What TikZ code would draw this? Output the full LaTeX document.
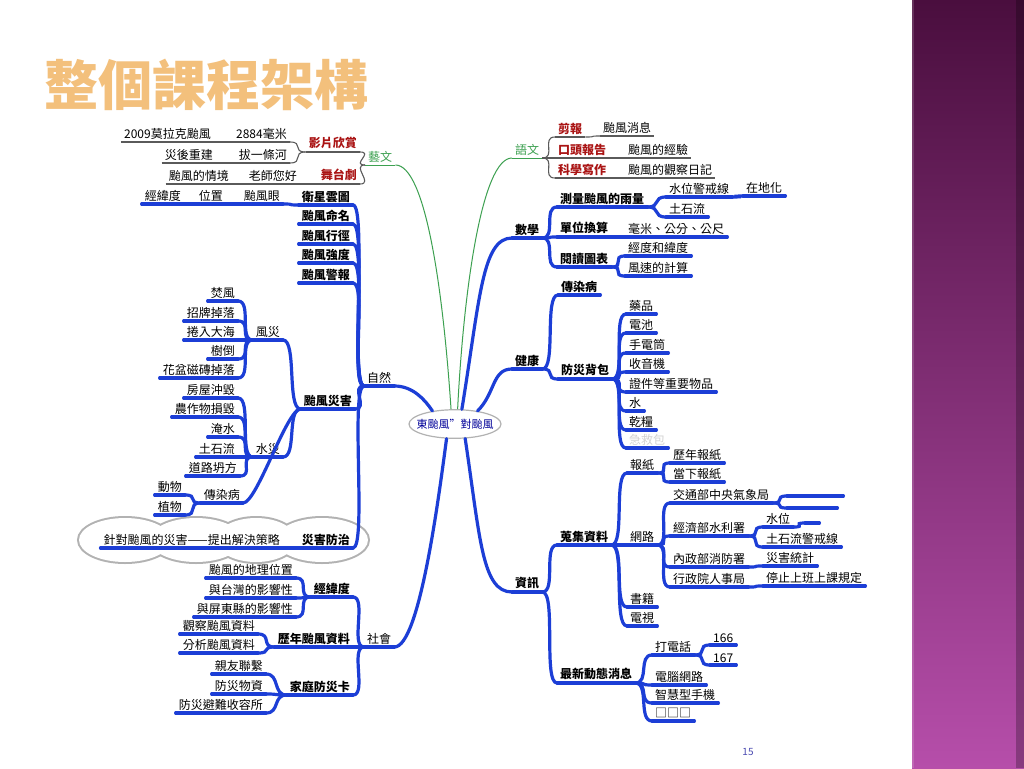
\documentclass[tikz,border=0pt]{standalone}
\usepackage{fontspec}
\setmainfont{Noto Sans CJK TC}
\usetikzlibrary{shapes.geometric}
\definecolor{mapblue}{RGB}{28,62,214}
\definecolor{mapgray}{RGB}{90,90,90}
\definecolor{mapgreen}{RGB}{60,160,80}
\definecolor{mapred}{RGB}{170,20,20}
\definecolor{titleorange}{RGB}{243,192,124}
\definecolor{bandtop}{RGB}{74,14,62}
\definecolor{bandbot}{RGB}{182,78,170}
\tikzset{
  rt/.style={anchor=south west, inner xsep=3pt, inner ysep=2.6pt, font=\fontsize{12}{13}\selectfont},
  lt/.style={rt, anchor=south east},
  rtb/.style={rt, font=\fontsize{12}{13}\selectfont\bfseries},
  ltb/.style={lt, font=\fontsize{12}{13}\selectfont\bfseries},
  redtxt/.style={text=mapred, font=\fontsize{12}{13}\selectfont\bfseries},
  grntxt/.style={text=mapgreen},
  bline/.style={draw=mapblue, line width=3.2pt, line cap=round},
  gline/.style={draw=mapgray, line width=1.1pt},
  grnline/.style={draw=mapgreen, line width=1pt},
  curv/.style={to path={.. controls +(14,0) and +(-14,0) .. (\tikztotarget)}},
}
\begin{document}
\begin{tikzpicture}[x=1pt, y=-1pt]
  \useasboundingbox (0,0) rectangle (1024,768);
  \fill[white] (0,0) rectangle (912,768);
  % side band
  \shade[top color=bandtop, bottom color=bandbot] (912,0) rectangle (1024,768);
  \fill[black, opacity=.25] (1016,0) rectangle (1024,768);
  \draw[white, opacity=.15, line width=2pt] (913,0) -- (913,768);

  % title
  \node (title) [anchor=west, inner sep=0, text=titleorange, font=\fontsize{54}{54}\selectfont\bfseries] at (44,85) {整個課程架構};

  % cloud behind the strategy line
  \foreach \cx/\rx in {125/46, 196/46, 256/40, 322/46}
    \draw[gray!60, line width=4pt] (\cx,540) ellipse [x radius=\rx, y radius=22];
  \foreach \cx/\rx in {125/46, 196/46, 256/40, 322/46}
    \fill[white] (\cx,540) ellipse [x radius=\rx, y radius=22];

  % centre
  \node (ctr) [ellipse, draw=gray!60, line width=1.2pt, fill=white, text=blue!60!black, inner xsep=-6pt, inner ysep=5pt, font=\fontsize{11}{12}\selectfont] at (455,424) {東颱風”對颱風};

  % art branch
  \node (yiwen) [rt, grntxt] at (365,165) {藝文};
  \node (film) [lt, redtxt] at (360,152) {影片欣賞};
  \node (drama) [lt, redtxt] at (360,184) {舞台劇};
  \node (mm) [lt] at (290,142) {2884毫米};
  \node (morakot) [lt] at (214,142) {2009莫拉克颱風};
  \node (river) [lt] at (290,163) {拔一條河};
  \node (rebuild) [lt] at (216,163) {災後重建};
  \node (hello) [lt] at (300,184) {老師您好};
  \node (scene) [lt] at (232,184) {颱風的情境};

  % nature branch
  \node (ziran) [rt] at (364,386) {自然};
  \node (satellite) [ltb] at (353,205) {衛星雲圖};
  \node (naming) [ltb] at (353,224) {颱風命名};
  \node (track) [ltb] at (353,244) {颱風行徑};
  \node (strength) [ltb] at (353,263) {颱風強度};
  \node (warning) [ltb] at (353,283) {颱風警報};
  \node (disaster) [ltb] at (355,409) {颱風災害};
  \node (prevent) [ltb] at (353,548) {災害防治};
  \node (eye) [lt] at (283,204) {颱風眼};
  \node (place) [lt] at (226,204) {位置};
  \node (latlon) [lt] at (184,204) {經緯度};
  \node (wind) [lt] at (283,340) {風災};
  \node (flood) [lt] at (283,457) {水災};
  \node (plague) [lt] at (243,503) {傳染病};
  \node (foehn) [lt] at (238,301) {焚風};
  \node (sign) [lt] at (238,321) {招牌掉落};
  \node (sea) [lt] at (238,340) {捲入大海};
  \node (tree) [lt] at (238,359) {樹倒};
  \node (pot) [lt] at (238,378) {花盆磁磚掉落};
  \node (house) [lt] at (238,398) {房屋沖毀};
  \node (crop) [lt] at (238,417) {農作物損毀};
  \node (inund) [lt] at (238,437) {淹水};
  \node (debris) [lt] at (238,457) {土石流};
  \node (road) [lt] at (240,476) {道路坍方};
  \node (animal) [lt] at (185,495) {動物};
  \node (plant) [lt] at (185,515) {植物};
  \node (strategy) [lt] at (283,548) {針對颱風的災害——提出解決策略};

  % society branch
  \node (society) [rt] at (364,647) {社會};
  \node (latlon2) [ltb] at (353,597) {經緯度};
  \node (history) [ltb] at (353,647) {歷年颱風資料};
  \node (card) [ltb] at (353,695) {家庭防災卡};
  \node (geo) [lt] at (296,578) {颱風的地理位置};
  \node (taiwan) [lt] at (296,598) {與台灣的影響性};
  \node (pingtung) [lt] at (296,617) {與屏東縣的影響性};
  \node (observe) [lt] at (258,634) {觀察颱風資料};
  \node (analyze) [lt] at (258,653) {分析颱風資料};
  \node (contact) [lt] at (266,674) {親友聯繫};
  \node (supplies) [lt] at (266,694) {防災物資};
  \node (shelter) [lt] at (266,713) {防災避難收容所};

  % language branch
  \node (yuwen) [rt, grntxt] at (512,158) {語文};
  \node (clip) [rt, redtxt] at (555,137) {剪報};
  \node (oral) [rt, redtxt] at (555,158) {口頭報告};
  \node (sciwrite) [rt, redtxt] at (555,178) {科學寫作};
  \node (news) [rt] at (600,136) {颱風消息};
  \node (exper) [rt] at (625,158) {颱風的經驗};
  \node (diary) [rt] at (625,178) {颱風的觀察日記};

  % maths branch
  \node (math) [rtb] at (512,238) {數學};
  \node (rain) [rtb] at (557,207) {測量颱風的雨量};
  \node (unit) [rtb] at (557,237) {單位換算};
  \node (chart) [rtb] at (557,267) {閱讀圖表};
  \node (level) [rt] at (666,197) {水位警戒線};
  \node (debris2) [rt] at (666,217) {土石流};
  \node (local) [rt] at (743,196) {在地化};
  \node (units) [rt] at (625,237) {毫米、公分、公尺};
  \node (lonlat) [rt] at (625,256) {經度和緯度};
  \node (speed) [rt] at (625,276) {風速的計算};

  % health branch
  \node (health) [rtb] at (512,369) {健康};
  \node (plague2) [rtb] at (558,295) {傳染病};
  \node (bag) [rtb] at (558,379) {防災背包};
  \node (medicine) [rt] at (626,314) {藥品};
  \node (battery) [rt] at (626,333) {電池};
  \node (torch) [rt] at (626,353) {手電筒};
  \node (radio) [rt] at (626,372) {收音機};
  \node (docs) [rt] at (626,392) {證件等重要物品};
  \node (water) [rt] at (626,411) {水};
  \node (food) [rt] at (626,430) {乾糧};
  \node (firstaid) [rt, text=gray!35] at (626,448) {急救包};

  % information branch
  \node (info) [rtb] at (512,592) {資訊};
  \node (collect) [rtb] at (557,545) {蒐集資料};
  \node (latest) [rtb] at (557,683) {最新動態消息};
  \node (paper) [rt] at (627,473) {報紙};
  \node (net) [rt] at (627,545) {網路};
  \node (book) [rt] at (627,607) {書籍};
  \node (tv) [rt] at (627,626) {電視};
  \node (oldpaper) [rt] at (670,463) {歷年報紙};
  \node (nowpaper) [rt] at (670,482) {當下報紙};
  \node (cwb) [rt] at (670,503) {交通部中央氣象局};
  \node (wra) [rt] at (670,536) {經濟部水利署};
  \node (nfa) [rt] at (670,567) {內政部消防署};
  \node (cpa) [rt] at (670,587) {行政院人事局};
  \node (faintA) [rt, minimum width=56] at (787,496) {};
  \node (faintB) [rt, minimum width=50] at (787,508) {};
  \node (waterlv) [rt] at (763,527) {水位};
  \node (wlsub) [rt, minimum width=14] at (805,523) {};
  \node (warnline) [rt] at (763,547) {土石流警戒線};
  \node (stats) [rt] at (763,566) {災害統計};
  \node (rule) [rt] at (763,586) {停止上班上課規定};
  \node (call) [rt] at (652,655) {打電話};
  \node (pc) [rt] at (652,685) {電腦網路};
  \node (phone) [rt] at (652,703) {智慧型手機};
  \node (qqq) [rt] at (652,721) {□□□};
  \node (n166) [rt] at (710,645) {166};
  \node (n167) [rt] at (710,665) {167};

  % slide number
  \node (pagenum) [text=gray!60!blue, font=\fontsize{10}{11}\selectfont] at (748,752) {15};

  % underlines
  \foreach \n in {film,drama,mm,morakot,river,rebuild,hello,scene,clip,oral,sciwrite,news,exper,diary}
    \draw[gline] (\n.south west) -- (\n.south east);
  \foreach \n in {yiwen,yuwen}
    \draw[grnline] (\n.south west) -- (\n.south east);
  \foreach \n in {ziran,satellite,naming,track,strength,warning,disaster,prevent,eye,place,latlon,
      wind,flood,plague,foehn,sign,sea,tree,pot,house,crop,inund,debris,road,animal,plant,strategy,
      society,latlon2,history,card,geo,taiwan,pingtung,observe,analyze,contact,supplies,shelter,
      math,rain,unit,chart,level,debris2,local,units,lonlat,speed,
      health,plague2,bag,medicine,battery,torch,radio,docs,water,food,firstaid,
      info,collect,latest,paper,net,book,tv,oldpaper,nowpaper,cwb,wra,nfa,cpa,faintA,faintB,
      waterlv,wlsub,warnline,stats,rule,call,pc,phone,qqq,n166,n167}
    \draw[bline] (\n.south west) -- (\n.south east);

  % connectors, left node to right node
  \foreach \a/\b in {morakot/mm,mm/film,rebuild/river,river/film,scene/hello,hello/drama,film/yiwen,drama/yiwen,
      clip/news,oral/exper,sciwrite/diary,yuwen/clip,yuwen/oral,yuwen/sciwrite}
    \draw[gline] (\a.south east) to[curv] (\b.south west);
  \foreach \a/\b in {latlon/place,place/eye,eye/satellite,satellite/ziran,naming/ziran,track/ziran,
      strength/ziran,warning/ziran,disaster/ziran,prevent/ziran,strategy/prevent,
      wind/disaster,flood/disaster,plague/disaster,foehn/wind,sign/wind,sea/wind,tree/wind,pot/wind,
      house/flood,crop/flood,inund/flood,debris/flood,road/flood,animal/plague,plant/plague,
      latlon2/society,history/society,card/society,geo/latlon2,taiwan/latlon2,pingtung/latlon2,
      observe/history,analyze/history,contact/card,supplies/card,shelter/card,
      math/rain,math/unit,math/chart,rain/level,rain/debris2,level/local,unit/units,chart/lonlat,chart/speed,
      health/plague2,health/bag,bag/medicine,bag/battery,bag/torch,bag/radio,bag/docs,bag/water,bag/food,bag/firstaid,
      info/collect,info/latest,collect/paper,collect/net,collect/book,collect/tv,paper/oldpaper,paper/nowpaper,
      net/cwb,net/wra,net/nfa,net/cpa,cwb/faintA,cwb/faintB,wra/waterlv,wra/warnline,waterlv/wlsub,
      nfa/stats,cpa/rule,latest/call,latest/pc,latest/phone,latest/qqq,call/n166,call/n167}
    \draw[bline] (\a.south east) to[curv] (\b.south west);

  % main branches from the centre
  \draw[grnline] (yiwen.south east) .. controls +(30,0) and +(-8,-120) .. (ctr.105);
  \draw[grnline] (ctr.80) .. controls +(6,-120) and +(-30,0) .. (yuwen.south west);
  \draw[bline] (ziran.south east) .. controls +(18,0) and +(-8,-12) .. (ctr.150);
  \draw[bline] (society.south east) .. controls +(25,0) and +(-8,60) .. (ctr.-120);
  \draw[bline] (ctr.65) .. controls +(18,-110) and +(-30,0) .. (math.south west);
  \draw[bline] (ctr.30) .. controls +(18,-18) and +(-20,0) .. (health.south west);
  \draw[bline] (ctr.-55) .. controls +(15,100) and +(-30,0) .. (info.south west);
\end{tikzpicture}
\end{document}
